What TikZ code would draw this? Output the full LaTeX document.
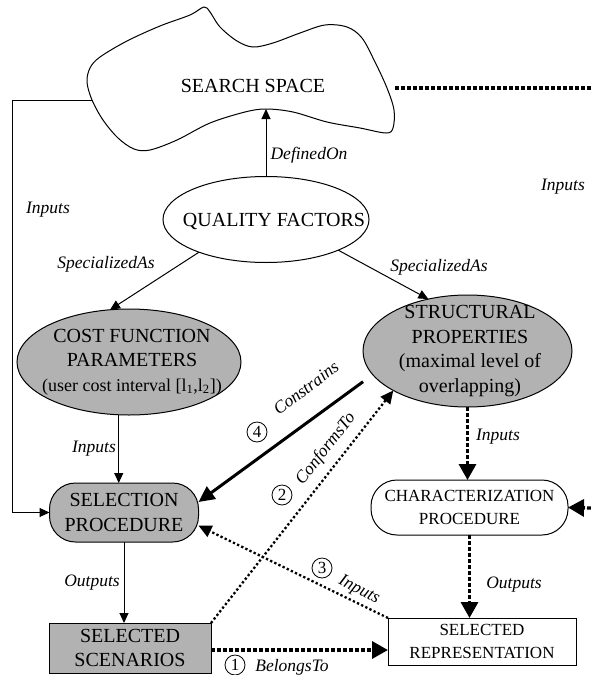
\documentclass[tikz,border=0pt]{standalone}
\usepackage{fontspec}
\setmainfont{Liberation Serif}
\usetikzlibrary{arrows.meta,shapes.geometric,calc}

\definecolor{boxgray}{gray}{0.70}

\tikzset{
  every node/.style={inner sep=0pt, outer sep=0pt},
  maintext/.style={font=\fontsize{20}{24.5}\selectfont, align=center},
  smalltext/.style={font=\fontsize{17}{22.5}\selectfont, align=center},
  lbl/.style={font=\fontsize{17.5}{20}\selectfont\itshape},
  num/.style={circle, draw, line width=0.8pt, minimum size=20pt, font=\fontsize{17}{17}\selectfont},
  outline/.style={draw, line width=1pt},
  thinarrow/.style={line width=1pt, -{Triangle[length=10pt,width=9pt]}},
  heavyarrow/.style={line width=3pt, -{Triangle[length=16pt,width=15pt]}},
  heavydots/.style={line width=3.3pt, dash pattern=on 4pt off 2pt},
  heavydotarrow/.style={heavydots, -{Triangle[length=16pt,width=17pt]}},
  lightdotarrow/.style={line width=2.3pt, dash pattern=on 2.3pt off 2.3pt, -{Triangle[length=13pt,width=12pt]}},
}

\begin{document}
\begin{tikzpicture}[x=1pt,y=-1pt]
\useasboundingbox (0,0) rectangle (591,675);

% the search space outline
\draw[line width=1pt, fill=white] plot[smooth cycle, tension=0.55] coordinates {
  (204,7) (210,12) (220,27) (237,41) (253,47) (273,43) (300,33) (325,25)
  (347,27) (362,38) (375,62) (387,88) (394,110) (393,128) (386,133)
  (360,128) (327,122) (293,112) (266,109) (245,112) (210,123) (177,140)
  (150,150) (134,149) (118,138) (103,120) (92,100) (87,82) (90,68)
  (100,57) (127,41) (160,26) (190,15)};
\node[maintext] (ss) at (253,86) {SEARCH SPACE};
\coordinate (ssbottom) at (266,109);
\coordinate (ssleft) at (92,100);
\coordinate (ssright) at (395,88);
\coordinate (rtop) at (591,88);
\coordinate (rbot) at (591,508);
\coordinate (lcorner) at (12,100);

% ellipses
\node[ellipse, outline, minimum width=206pt, minimum height=86pt] (qf) at (266,219.5) {};
\node[maintext] (qft) at (274,221) {QUALITY FACTORS};

\node[ellipse, outline, fill=boxgray, minimum width=224pt, minimum height=106pt] (cost) at (129,362) {};
\node[maintext] (costt) at (132,362) {COST FUNCTION\\PARAMETERS\\{\fontsize{18}{22}\selectfont(user cost interval [l\textsubscript{1},l\textsubscript{2}])}};

\node[ellipse, outline, fill=boxgray, minimum width=209pt, minimum height=112pt] (struct) at (467.5,351) {};
\node[maintext] (structt) at (470,351) {STRUCTURAL\\PROPERTIES\\(maximal level of\\overlapping)};

% procedures and results
\node[outline, fill=boxgray, rounded corners=26pt, minimum width=149pt, minimum height=59pt, maintext] (sel) at (124,512.5) {SELECTION\\PROCEDURE};
\node[outline, fill=white, rounded corners=26pt, minimum width=197pt, minimum height=55pt, smalltext] (char) at (469.5,507.5) {CHARACTERIZATION\\PROCEDURE};
\node[outline, fill=boxgray, minimum width=162pt, minimum height=50pt, maintext] (scen) at (130,648) {SELECTED\\SCENARIOS};
\node[outline, fill=white, minimum width=188pt, minimum height=47pt, smalltext] (rep) at (482,641.5) {SELECTED\\REPRESENTATION};

% solid links
\draw[thinarrow] (qf.north) -- (ssbottom);
\node[lbl] (ldef) at (309,155) {DefinedOn};

\draw[thinarrow] (ssleft) -- (lcorner) |- (sel.west);
\node[lbl] (lin1) at (48,210) {Inputs};

\draw[thinarrow] (qf.206) -- (cost.110);
\node[lbl] (lspec1) at (106,264) {SpecializedAs};
\draw[thinarrow] (qf.337) -- (struct.127);
\node[lbl] (lspec2) at (439,267) {SpecializedAs};

\draw[thinarrow] (cost.259) -- (cost.259 |- sel.north);
\node[lbl] (lin2) at (94,449) {Inputs};

\draw[thinarrow] (sel.south) -- (sel.south |- scen.north);
\node[lbl] (lout1) at (92,583) {Outputs};

% numbered links
\draw[heavyarrow, shorten <=12pt] (struct.194) -- (sel.8);
\node[lbl, rotate=37] (lcon) at (306,388) {Constrains};
\node[num] (n4) at (257,432) {4};

\draw[lightdotarrow] (scen.north east) -- (struct.208);
\node[lbl, rotate=52] (lconf) at (326,449) {ConformsTo};
\node[num] (n2) at (282,495) {2};

\draw[lightdotarrow] (rep.north west) -- (sel.-10);
\node[lbl, rotate=-27] (lin3) at (359,590) {Inputs};
\node[num] (n3) at (322,568) {3};

\coordinate (bt) at ($(scen.east)+(0,2)$);
\draw[heavydotarrow] (bt) -- (bt -| rep.west);
\node[lbl] (lbel) at (292,667) {BelongsTo};
\node[num] (n1) at (235,665) {1};

% characterization chain
\draw[heavydotarrow] (struct.south) -- (struct.south |- char.north);
\node[lbl] (lin4) at (498,437) {Inputs};
\draw[heavydotarrow] (char.south) -- (char.south |- rep.north);
\node[lbl] (lout2) at (514,585) {Outputs};

\draw[heavydots] (ssright) -- (rtop);
\node[lbl] (lin5) at (563,187) {Inputs};
\draw[heavydotarrow] (rbot) -- (char.east);
\end{tikzpicture}
\end{document}
